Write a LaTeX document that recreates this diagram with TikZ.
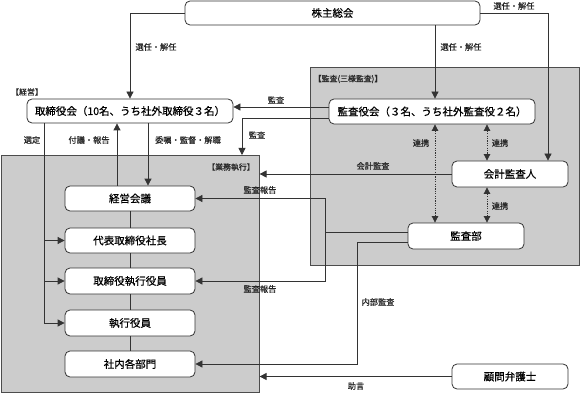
\documentclass[tikz,border=0pt]{standalone}
\usepackage{fontspec}
\setmainfont{Noto Sans CJK JP}[FakeBold=0.6]
\usetikzlibrary{arrows.meta}
\tikzset{
  box/.style={draw=black!80, fill=white, rounded corners=5pt, line width=0.8pt, inner sep=0pt, font=\fontsize{10.5}{12}\selectfont},
  lbl/.style={font=\fontsize{8.2}{10}\selectfont, inner sep=0pt, text=black!85},
  seclbl/.style={font=\fontsize{7.9}{9}\selectfont, inner sep=0pt, text=black!85},
  conn/.style={draw=black!80, line width=0.8pt},
  arr/.style={conn, -{Triangle[length=7pt,width=7pt]}},
  dotarr/.style={conn, line width=0.7pt, dash pattern=on 1.2pt off 1.2pt, {Triangle[length=6.5pt,width=6.5pt]}-{Triangle[length=6.5pt,width=6.5pt]}},
  region/.style={fill=black!20, draw=black!70, line width=0.6pt, inner sep=0pt}
}
\begin{document}
\begin{tikzpicture}[x=1pt,y=-1pt]
\useasboundingbox (0,0) rectangle (581,393);
% regions
\node[region, anchor=north west, minimum width=269pt, minimum height=198pt] (audreg) at (310,67) {};
\node[region, anchor=north west, minimum width=258pt, minimum height=236.5pt] (exreg) at (1,155) {};
% section labels
\node[seclbl] (lkeiei) at (27,92) {【経営】};
\node[seclbl] (laud) at (348,79) {【監査(三様監査)】};
\node[seclbl] (lexec) at (231,167) {【業務執行】};
% boxes
\node[box, minimum width=295pt, minimum height=24pt] (sh) at (332.5,13) {株主総会};
\node[box, minimum width=206pt, minimum height=24pt] (bod) at (130,111) {取締役会（10名、うち社外取締役３名）};
\node[box, minimum width=206pt, minimum height=25pt] (kab) at (432,111.5) {監査役会（３名、うち社外監査役２名）};
\node[box, minimum width=116pt, minimum height=26pt] (kai) at (510,174) {会計監査人};
\node[box, minimum width=116pt, minimum height=26pt] (kbu) at (466,236) {監査部};
\node[box, minimum width=130pt, minimum height=25pt] (kk) at (130,198.5) {経営会議};
\node[box, minimum width=130pt, minimum height=25pt] (ceo) at (130,240.5) {代表取締役社長};
\node[box, minimum width=130pt, minimum height=26pt] (dex) at (130,281) {取締役執行役員};
\node[box, minimum width=130pt, minimum height=26pt] (ex) at (130,323) {執行役員};
\node[box, minimum width=130pt, minimum height=26pt] (dep) at (130,364) {社内各部門};
\node[box, minimum width=116pt, minimum height=25pt] (adv) at (510,376.5) {顧問弁護士};
% helper coordinates
\coordinate (k1) at ([yshift=4.5pt]kab.west);
\coordinate (k2) at ([yshift=-6.5pt]kab.west);
\coordinate (e1) at (exreg.north -| 242,0);
\coordinate (kt) at (kai.north -| 548,0);
\coordinate (ja) at (325,232);
\coordinate (jb) at (357,242);
\coordinate (m1) at ([yshift=4pt]kbu.west);
\coordinate (m2) at ([yshift=-6pt]kbu.west);
% connectors
\draw[arr] (sh.west) -| (bod.north);
\draw[arr] (sh.south -| 435,0) -- (kab.north -| 435,0);
\draw[arr] (sh.east) -| (kt);
\draw[arr] (k1) -- (k1 -| bod.east);
\draw[arr] (k2) -| (e1);
\draw[arr] (kai.west) -- (kai.west -| exreg.east);
\draw[conn] (m1) -- (ja);
\draw[arr] (ja) |- (kk.east);
\draw[arr] (ja) |- (dex.east);
\draw[arr] (m2) -- (jb) |- (dep.east);
\draw[arr] (adv.west) -- (adv.west -| exreg.east);
\draw[arr] (bod.south -| 44,0) |- (ex.west);
\draw[arr] (ceo.west -| 44,0) -- (ceo.west);
\draw[arr] (dex.west -| 44,0) -- (dex.west);
\draw[arr] (kk.north -| 117,0) -- (bod.south -| 117,0);
\draw[arr] (bod.south -| 148,0) -- (kk.north -| 148,0);
\draw[conn] (kk.south) -- (ceo.north);
\draw[conn] (ceo.south) -- (dex.north);
\draw[conn] (dex.south) -- (ex.north);
\draw[conn] (ex.south) -- (dep.north);
\draw[dotarr] (kab.south -| 435,0) -- (kbu.north -| 435,0);
\draw[dotarr] (kab.south -| 487,0) -- (kai.north -| 487,0);
\draw[dotarr] (kai.south -| 487,0) -- (kbu.north -| 487,0);
% labels
\node[lbl] (l1) at (156,47) {選任・解任};
\node[lbl] (l2) at (461,47) {選任・解任};
\node[lbl] (l3) at (514,6) {選任・解任};
\node[lbl] (l4) at (276,100) {監査};
\node[lbl] (l5) at (257,135) {監査};
\node[lbl] (l6) at (373,166) {会計監査};
\node[lbl] (l7) at (260,190) {監査報告};
\node[lbl] (l8) at (260,289) {監査報告};
\node[lbl] (l9) at (378,302) {内部監査};
\node[lbl] (l10) at (356,386) {助言};
\node[lbl] (l11) at (32,140) {選定};
\node[lbl] (l12) at (89,140) {付議・報告};
\node[lbl] (l13) at (188,140) {委嘱・監督・解職};
\node[lbl] (l14) at (421,143) {連携};
\node[lbl] (l15) at (500,143) {連携};
\node[lbl] (l16) at (500,206) {連携};
\end{tikzpicture}
\end{document}
